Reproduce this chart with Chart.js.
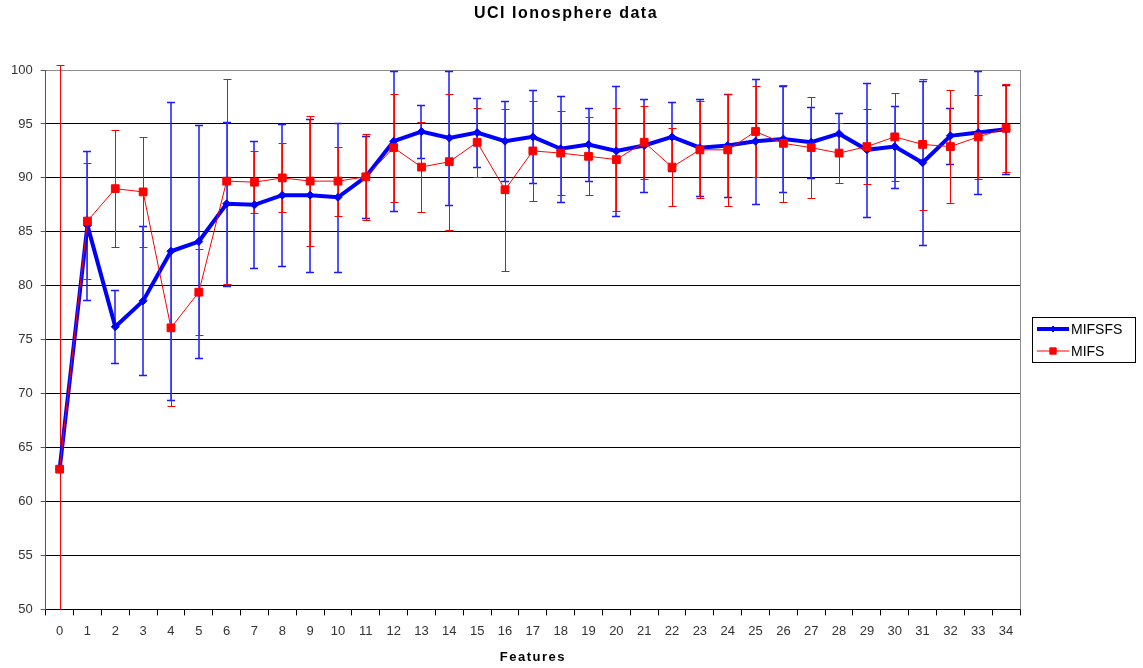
<!DOCTYPE html>
<html>
<head>
<meta charset="utf-8">
<title>UCI Ionosphere data</title>
<script src="https://cdn.jsdelivr.net/npm/chart.js@4.4.1/dist/chart.umd.min.js"></script>
<style>
  html, body { margin: 0; padding: 0; background: #fff; }
  #wrap { width: 1143px; height: 668px; position: relative; }
</style>
</head>
<body>
<div id="wrap"><canvas id="ionoChart"></canvas></div>
<script>
// Number of selected features (x axis)
const features = ['0','1','2','3','4','5','6','7','8','9','10','11','12','13','14','15','16','17',
  '18','19','20','21','22','23','24','25','26','27','28','29','30','31','32','33','34'];

// Mean accuracy (%) and error (+/-)
const mifsfs = [63.0, 85.6, 76.2, 78.6, 83.2, 84.1, 87.6, 87.5, 88.4, 88.4, 88.2, 90.1,
  93.4, 94.3, 93.7, 94.2, 93.4, 93.8, 92.7, 93.1, 92.5, 93.0, 93.8, 92.8, 93.0, 93.4,
  93.6, 93.3, 94.1, 92.6, 92.9, 91.4, 93.9, 94.2, 94.5];
const mifsfsErr = [0, 6.9, 3.4, 6.9, 13.8, 10.8, 7.6, 5.9, 6.6, 7.1, 6.9, 3.8,
  6.5, 2.5, 6.2, 3.2, 3.7, 4.3, 4.9, 3.4, 6.0, 4.3, 3.2, 4.5, 4.8, 5.8,
  4.9, 3.3, 1.9, 6.2, 3.8, 7.6, 2.6, 5.7, 4.1];

const mifs = [63.0, 86.0, 89.0, 88.7, 76.1, 79.4, 89.7, 89.6, 90.0, 89.7, 89.7, 90.1,
  92.8, 91.0, 91.5, 93.3, 88.9, 92.5, 92.3, 92.0, 91.7, 93.3, 91.0, 92.6, 92.6, 94.3,
  93.2, 92.8, 92.3, 92.9, 93.8, 93.1, 92.9, 93.8, 94.6];
const mifsErr = [37.5, 5.4, 5.4, 5.1, 7.2, 4.0, 9.5, 2.9, 3.2, 6.0, 3.2, 4.0,
  5.0, 4.2, 6.3, 3.2, 7.5, 4.6, 3.9, 3.6, 4.8, 3.4, 3.6, 4.5, 5.2, 4.2,
  5.4, 4.7, 2.8, 3.5, 4.1, 6.1, 5.2, 3.9, 4.1];

const BLUE = '#0000ff';
const RED = '#ff0000';

// vertical error bars with caps, drawn under the lines
const errorBars = {
  id: 'errorBars',
  beforeDatasetsDraw(chart) {
    const { ctx, chartArea, scales: { x, y } } = chart;
    ctx.save();
    ctx.beginPath();
    ctx.rect(chartArea.left, chartArea.top - 5, chartArea.width, chartArea.height + 5);
    ctx.clip();
    [[mifsfs, mifsfsErr, '#1a1aff', 1.5, 0], [mifs, mifsErr, RED, 1, 0.5]].forEach(([vals, errs, color, lw, shift]) => {
      ctx.strokeStyle = color;
      ctx.lineWidth = lw;
      vals.forEach((v, i) => {
        if (!errs[i]) return;
        const px = Math.round(x.getPixelForValue(i)) + shift;
        const top = Math.round(y.getPixelForValue(v + errs[i])) + 0.5;
        const bot = Math.round(y.getPixelForValue(v - errs[i])) + 0.5;
        ctx.beginPath();
        ctx.moveTo(px, top); ctx.lineTo(px, bot);
        ctx.moveTo(px - 4, top); ctx.lineTo(px + 4, top);
        ctx.moveTo(px - 4, bot); ctx.lineTo(px + 4, bot);
        ctx.stroke();
      });
    });
    ctx.restore();

    // plot area border on the right
    ctx.save();
    ctx.strokeStyle = '#8c8c8c';
    ctx.lineWidth = 1;
    const r = Math.round(chartArea.right) + 0.5;
    ctx.beginPath();
    ctx.moveTo(r, chartArea.top);
    ctx.lineTo(r, chartArea.bottom);
    ctx.stroke();
    ctx.restore();
  }
};

// titles and Excel style legend box
const excelDecor = {
  id: 'excelDecor',
  afterDraw(chart) {
    const { ctx, chartArea } = chart;
    ctx.save();
    ctx.fillStyle = '#000';
    ctx.textAlign = 'center';
    ctx.textBaseline = 'middle';
    ctx.letterSpacing = '1.5px';
    ctx.font = 'bold 16px "Liberation Sans", Arial, sans-serif';
    ctx.fillText('UCI Ionosphere data', 566, 14);
    ctx.font = 'bold 13px "Liberation Sans", Arial, sans-serif';
    ctx.fillText('Features', (chartArea.left + chartArea.right) / 2, 657);
    ctx.restore();

    // legend
    const lx = 1032, ly = 317, lw = 103, lh = 45;
    ctx.save();
    ctx.fillStyle = '#fff';
    ctx.fillRect(lx, ly, lw, lh);
    ctx.strokeStyle = '#000';
    ctx.lineWidth = 1;
    ctx.strokeRect(lx + 0.5, ly + 0.5, lw, lh);
    const items = [
      { text: 'MIFSFS', ds: chart.data.datasets[0], y: ly + 12 },
      { text: 'MIFS', ds: chart.data.datasets[1], y: ly + 34 }
    ];
    items.forEach(it => {
      ctx.strokeStyle = it.ds.borderColor;
      ctx.fillStyle = it.ds.backgroundColor;
      ctx.lineWidth = it.ds.borderWidth;
      ctx.beginPath();
      ctx.moveTo(lx + 5, it.y);
      ctx.lineTo(lx + 37, it.y);
      ctx.stroke();
      ctx.lineWidth = 1;
      Chart.helpers.drawPoint(ctx, {
        pointStyle: it.ds.pointStyle,
        radius: it.ds.pointRadius - 1,
        borderWidth: 1
      }, lx + 21, it.y);
      ctx.fillStyle = '#000';
      ctx.textAlign = 'left';
      ctx.textBaseline = 'middle';
      ctx.font = '14px "Liberation Sans", Arial, sans-serif';
      ctx.fillText(it.text, lx + 39, it.y + 1);
    });
    ctx.restore();
  }
};

new Chart(document.getElementById('ionoChart'), {
  type: 'line',
  data: {
    labels: features,
    datasets: [
      {
        label: 'MIFSFS',
        data: mifsfs,
        borderColor: BLUE,
        backgroundColor: BLUE,
        borderWidth: 4,
        pointStyle: 'rectRot',
        pointRadius: 4,
        pointBorderWidth: 1,
        tension: 0,
        order: 2
      },
      {
        label: 'MIFS',
        data: mifs,
        borderColor: RED,
        backgroundColor: RED,
        borderWidth: 1,
        pointStyle: 'rect',
        pointRadius: 5.5,
        pointBorderWidth: 1,
        tension: 0,
        order: 1
      }
    ]
  },
  options: {
    responsive: true,
    maintainAspectRatio: false,
    animation: false,
    layout: { padding: { left: 3, right: 123, top: 70, bottom: 21 } },
    plugins: {
      legend: { display: false },
      title: { display: false },
      tooltip: { enabled: false }
    },
    scales: {
      x: {
        type: 'category',
        offset: true,
        grid: { offset: true, drawOnChartArea: false, tickLength: 6, color: '#000' },
        border: { color: '#000' },
        ticks: {
          color: '#333',
          font: { size: 13, family: '"Liberation Sans", Arial, sans-serif' },
          padding: 8,
          maxRotation: 0,
          autoSkip: false
        }
      },
      y: {
        min: 50,
        max: 100,
        grid: {
          color: c => (c.tick && c.tick.value === 100) ? '#8c8c8c' : '#000',
          tickColor: '#555',
          tickLength: 5
        },
        border: { color: '#555' },
        ticks: {
          stepSize: 5,
          color: '#333',
          font: { size: 13, family: '"Liberation Sans", Arial, sans-serif' },
          padding: 8
        }
      }
    }
  },
  plugins: [errorBars, excelDecor]
});
</script>
</body>
</html>
